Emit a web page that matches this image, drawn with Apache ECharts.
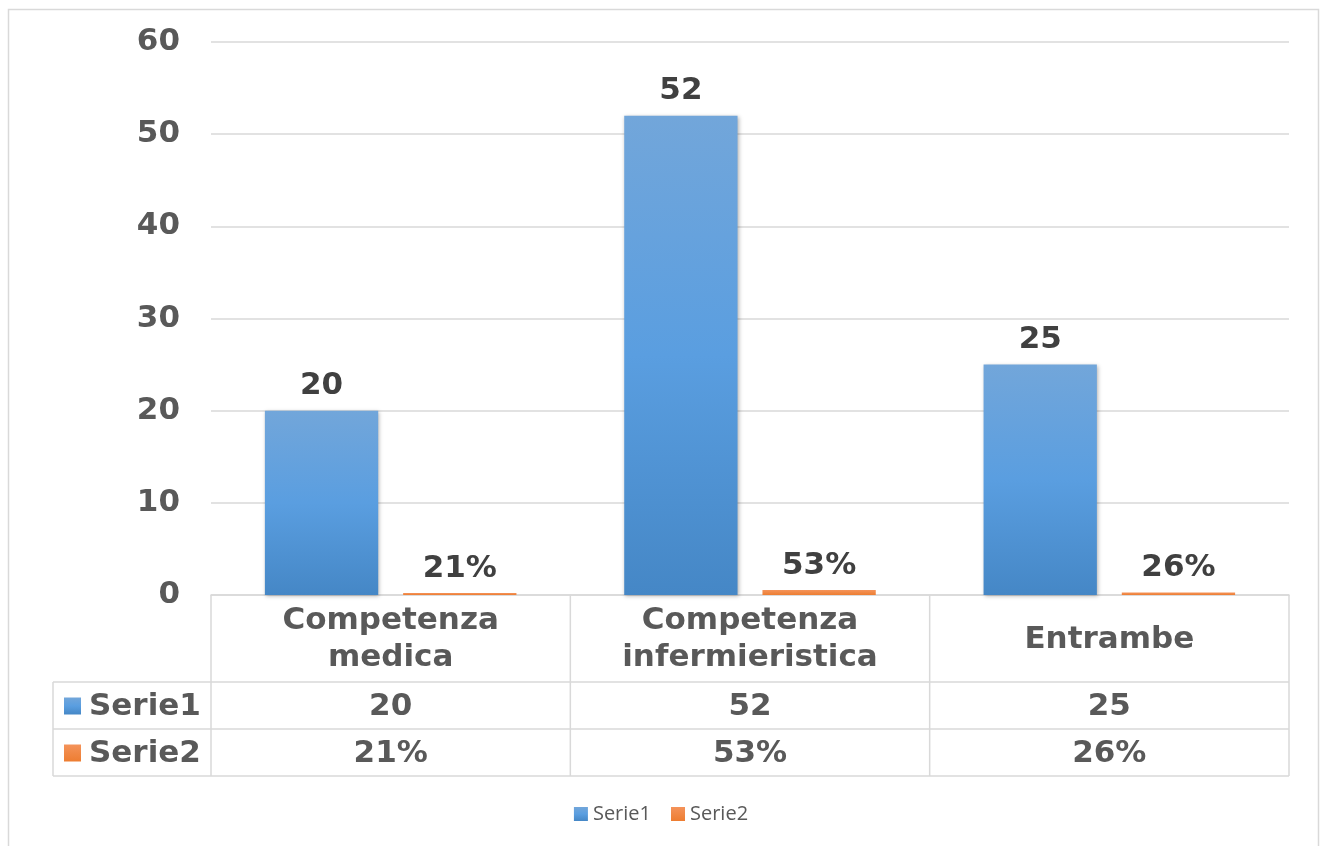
<!DOCTYPE html>
<html>
<head>
<meta charset="utf-8">
<script src="https://cdn.jsdelivr.net/npm/echarts@6/dist/echarts.min.js"></script>
<style>
  html, body { margin: 0; padding: 0; background: #ffffff; }
  #chart { width: 1322px; height: 846px; }
</style>
</head>
<body>
<div id="chart"></div>
<script>
// Categories and values
const categories = ['Competenza\nmedica', 'Competenza\ninfermieristica', 'Entrambe'];
const seriesNames = ['Serie1', 'Serie2'];
const serie1 = [20, 52, 25];
const serie2 = [0.21, 0.53, 0.26];
const yTicks = { min: 0, max: 60, interval: 10 };

const TEXT = '#595959';
const LABEL = '#404040';
const BORDER = '#d9d9d9';
const FONT = 'DejaVu Sans';
const BIG = 31;

const pct = v => Math.round(v * 100) + '%';

const blue = new echarts.graphic.LinearGradient(0, 0, 0, 1, [
  { offset: 0, color: '#72a6da' },
  { offset: 0.5, color: '#5a9ee0' },
  { offset: 1, color: '#4587c6' }
]);
const orange = new echarts.graphic.LinearGradient(0, 0, 0, 1, [
  { offset: 0, color: '#f4935a' },
  { offset: 1, color: '#ed7d31' }
]);

const chart = echarts.init(document.getElementById('chart'), null, { renderer: 'canvas' });

const option = {
  animation: false,
  backgroundColor: '#ffffff',
  textStyle: { fontFamily: FONT },
  grid: { left: 211, right: 33, top: 42, bottom: 251, containLabel: false },
  legend: {
    top: 799,
    left: 'center',
    itemWidth: 14,
    itemHeight: 14,
    itemGap: 20,
    icon: 'rect',
    textStyle: { fontFamily: 'Open Sans', fontSize: 20, color: TEXT },
    data: seriesNames
  },
  xAxis: {
    type: 'category',
    data: categories,
    axisLine: { show: true, lineStyle: { color: BORDER, width: 1.5 } },
    axisTick: { show: false },
    axisLabel: { show: false }
  },
  yAxis: {
    type: 'value',
    min: yTicks.min,
    max: yTicks.max,
    interval: yTicks.interval,
    axisLine: { show: false },
    axisTick: { show: false },
    splitLine: { lineStyle: { color: BORDER, width: 1.5 } },
    axisLabel: { fontSize: BIG, fontWeight: 'bold', color: TEXT, fontFamily: FONT, margin: 31 }
  },
  series: [
    {
      name: seriesNames[0],
      type: 'bar',
      data: serie1,
      barGap: '22%',
      barCategoryGap: '30%',
      itemStyle: {
        color: blue,
        shadowBlur: 4,
        shadowColor: 'rgba(0,0,0,0.3)',
        shadowOffsetX: 1,
        shadowOffsetY: 1
      },
      label: {
        show: true,
        position: 'top',
        distance: 9,
        fontSize: BIG,
        fontWeight: 'bold',
        color: LABEL,
        fontFamily: FONT
      }
    },
    {
      name: seriesNames[1],
      type: 'bar',
      data: serie2,
      itemStyle: { color: orange },
      label: {
        show: true,
        position: 'top',
        distance: 9,
        fontSize: BIG,
        fontWeight: 'bold',
        color: LABEL,
        fontFamily: FONT,
        formatter: p => pct(p.value)
      }
    }
  ]
};

chart.setOption(option);

// Data table under the plot area, aligned to the category axis
function buildTable() {
  const rect = chart.getModel().getComponent('grid').coordinateSystem.getRect();
  const x0 = rect.x, x1 = rect.x + rect.width, yAxisLine = rect.y + rect.height;
  const catW = rect.width / categories.length;
  const headerLeft = 53;
  const rowCat = 87, rowH = 47;
  const y1 = yAxisLine + rowCat, y2 = y1 + rowH, y3 = y2 + rowH;
  const els = [];
  const line = (xa, ya, xb, yb) => els.push({
    type: 'line', shape: { x1: xa, y1: ya, x2: xb, y2: yb },
    style: { stroke: BORDER, lineWidth: 1.5 }, silent: true
  });
  // outer frame of the chart
  els.push({
    type: 'rect', shape: { x: 8.5, y: 9.5, width: 1310, height: 850 },
    style: { fill: null, stroke: BORDER, lineWidth: 1.5 }, silent: true
  });
  line(headerLeft, y1, x1, y1);
  line(headerLeft, y2, x1, y2);
  line(headerLeft, y3, x1, y3);
  line(headerLeft, y1, headerLeft, y3);
  for (let i = 0; i <= categories.length; i++) {
    const x = x0 + catW * i;
    line(x, yAxisLine, x, y3);
  }
  const text = (str, x, y, align) => els.push({
    type: 'text', x: x, y: y, silent: true,
    style: {
      text: str, align: align || 'center', verticalAlign: 'middle',
      fontFamily: FONT, fontSize: BIG, fontWeight: 'bold', fill: TEXT, lineHeight: 37
    }
  });
  categories.forEach((c, i) => {
    const cx = chart.convertToPixel({ xAxisIndex: 0 }, i);
    text(c, cx, yAxisLine + rowCat / 2 + 1);
    text(String(serie1[i]), cx, y1 + rowH / 2 + 1);
    text(pct(serie2[i]), cx, y2 + rowH / 2 + 1);
  });
  // row headers with series keys
  const keys = [[blue, y1], [orange, y2]];
  keys.forEach((k, j) => {
    els.push({
      type: 'rect', shape: { x: headerLeft + 11, y: k[1] + rowH / 2 - 8, width: 17, height: 17 },
      style: { fill: k[0] }, silent: true
    });
    text(seriesNames[j], headerLeft + 36, k[1] + rowH / 2 + 1, 'left');
  });
  chart.setOption({ graphic: { elements: els } });
}
buildTable();
</script>
</body>
</html>
